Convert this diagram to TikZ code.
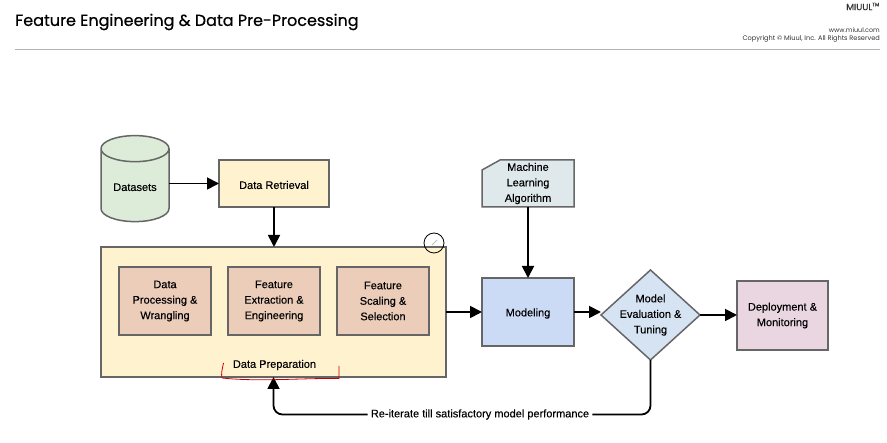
\documentclass[tikz,border=0pt]{standalone}
\usepackage{fontspec}
\setmainfont{Liberation Sans}[RawFeature={embolden=0.2}]
\newfontfamily\titlefont{Poppins}
\newfontfamily\headfont[RawFeature={embolden=0.5}]{Poppins}
\usetikzlibrary{positioning, arrows.meta, shapes.geometric, backgrounds}
\definecolor{boxline}{HTML}{666666}
\definecolor{dataset}{HTML}{DDEBD9}
\definecolor{prepfill}{HTML}{FFF2CF}
\definecolor{stepfill}{HTML}{EBCDBA}
\definecolor{modelfill}{HTML}{CBDBF6}
\definecolor{evalfill}{HTML}{D6E3F2}
\definecolor{deployfill}{HTML}{EAD6E1}
\definecolor{algofill}{HTML}{DFE9EB}
\tikzset{
  box/.style={draw=boxline, line width=1.5pt, rectangle, align=center, font=\fontsize{11}{15.5}\selectfont, inner sep=0pt, outer sep=0pt, execute at begin node={\rule{0pt}{11pt}}},
  tag/.style={font=\fontsize{11}{12}\selectfont, inner sep=0pt},
  link/.style={line width=1.8pt, -{Triangle[length=12pt,width=12pt]}},
  plain link/.style={line width=1.8pt},
  small/.style={inner sep=0pt, anchor=east, text=black!80}
}
\begin{document}
\begin{tikzpicture}[x=1pt, y=-1pt, >=stealth]
    \useasboundingbox (0,0) rectangle (887,443);

    % --- Page Header ---
    \node[anchor=west, inner sep=0pt] (title) at (15,22) {\headfont\fontsize{16}{18}\selectfont Feature Engineering \& Data Pre-Processing};
    \node[small] (brand) at (880,6.5) {\headfont\fontsize{9}{9}\selectfont MIUUL\textsuperscript{\tiny TM}};
    \node[small] (web) at (880,30.5) {\titlefont\fontsize{6.4}{7}\selectfont www.miuul.com};
    \node[small] (copy) at (880,39) {\titlefont\fontsize{6.6}{7}\selectfont Copyright © Miuul, Inc. All Rights Reserved};
    \coordinate (ruleL) at (15,49);
    \coordinate (ruleR) at (880,49);
    \draw[black!30, line width=0.8pt] (ruleL) -- (ruleR);

    % --- Top Row ---
    \node[box, cylinder, shape border rotate=90, aspect=0.6, fill=dataset, cylinder uses custom fill, cylinder body fill=dataset, cylinder end fill=dataset, minimum width=68pt, minimum height=86pt, execute at begin node={}] (datasets) at (135,185.5) {Datasets};
    \node[box, fill=prepfill, minimum width=110pt, minimum height=47pt] (retrieval) at (274,183.5) {Data Retrieval};
    \node[box, draw=none, minimum width=92pt, minimum height=47pt] (algorithm) at (528,183.5) {Machine\\Learning\\Algorithm};
    \begin{scope}[on background layer]
      \draw[draw=boxline, line width=1.5pt, fill=algofill] ([yshift=-10pt]algorithm.north west) -- ([xshift=18pt]algorithm.north west) -- (algorithm.north east) -- (algorithm.south east) -- (algorithm.south west) -- cycle;
    \end{scope}

    % --- Data Preparation Block ---
    \node[box, fill=prepfill, minimum width=345pt, minimum height=130pt] (prep) at (273.5,312) {};
    \node[box, fill=stepfill, minimum width=92pt, minimum height=68pt] (wrangling) at (165,301) {Data\\Processing \&\\Wrangling};
    \node[box, fill=stepfill, minimum width=92pt, minimum height=68pt, right=17pt of wrangling] (extraction) {Feature\\Extraction \&\\Engineering};
    \node[box, fill=stepfill, minimum width=92pt, minimum height=68pt, right=17pt of extraction] (scaling) {Feature\\Scaling \&\\Selection};
    \node[tag] (preplabel) at (274.5,365) {Data Preparation};

    % --- Right Side ---
    \node[box, fill=modelfill, minimum width=92pt, minimum height=68pt] (modeling) at (528,312) {Modeling};
    \node[box, diamond, aspect=1.1, inner sep=-9pt, fill=evalfill, minimum width=99pt, minimum height=90pt] (evaluation) at (650.5,315) {Model\\Evaluation \&\\Tuning};
    \node[box, fill=deployfill, minimum width=91pt, minimum height=69pt] (deployment) at (782.5,315.5) {Deployment \&\\Monitoring};
    \node[tag] (reiterate) at (480,414.5) {Re-iterate till satisfactory model performance};

    % --- Connectors ---
    \draw[link] (datasets.east |- retrieval.west) -- (retrieval.west);
    \draw[link] (retrieval) -- (retrieval |- prep.north);
    \draw[link] (algorithm) -- (modeling);
    \draw[link] (prep.east |- modeling.west) -- (modeling.west);
    \draw[link] (modeling.east) -- (evaluation.west |- modeling.east);
    \draw[link] (evaluation.east) -- (deployment.west |- evaluation.east);

    % --- Feedback Loop ---
    \draw[plain link, rounded corners=9pt] (evaluation.south) |- ([xshift=3pt]reiterate.east);
    \draw[link, rounded corners=9pt] ([xshift=-3pt]reiterate.west) -| (prep.south);

    % --- Pen Annotations ---
    \node[draw=black, circle, line width=0.8pt, minimum size=20pt, inner sep=0pt] (cursor) at (434,243) {};
    \draw[black!25, line width=1pt] ([shift={(-2,2)}]cursor.center) -- ([shift={(3,-3)}]cursor.center);
    \draw[red!80!black, line width=0.8pt, line join=round] (223.5,363) .. controls (222,370) and (221,374) .. (222,378) .. controls (260,382) and (300,378) .. (339,378.5) -- (339,366);

\end{tikzpicture}
\end{document}
